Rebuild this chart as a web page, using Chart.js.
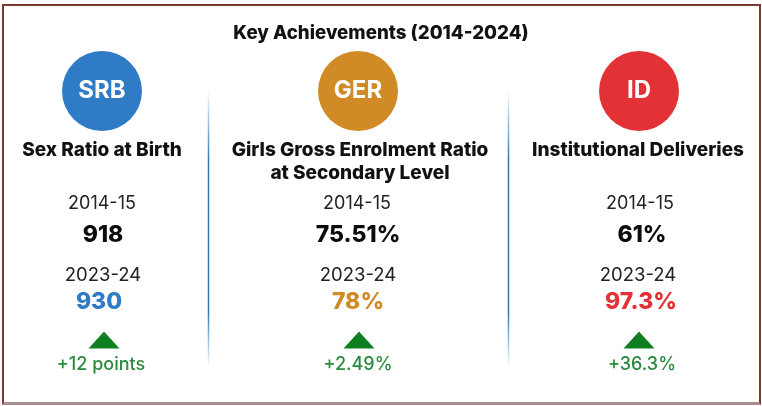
<!DOCTYPE html>
<html lang="en">
<head>
<meta charset="UTF-8">
<title>Key Achievements (2014-2024)</title>
<style>
  html,body{ margin:0; padding:0; background:#fff; }
  #wrap{ position:relative; width:762px; height:406px; overflow:hidden; }
  #frame{ position:absolute; left:2px; top:4px; width:755px; height:396px; border:2px solid #7b3a32; border-bottom:3px solid #a98f90; pointer-events:none; }
  canvas{ display:block; filter:blur(0.35px); }
</style>
</head>
<body>
<div id="wrap">
  <canvas id="chart" width="762" height="406"></canvas>
  <div id="frame"></div>
</div>
<script src="https://cdn.jsdelivr.net/npm/chart.js"></script>
<script>
"use strict";

// content
const chartTitle = "Key Achievements (2014-2024)";
const badges = ["SRB", "GER", "ID"];
const headingLine1 = ["Sex Ratio at Birth", "Girls Gross Enrolment Ratio", "Institutional Deliveries"];
const headingLine2 = ["", "at Secondary Level", ""];
const startPeriod = ["2014-15", "2014-15", "2014-15"];
const startValues = ["918", "75.51%", "61%"];
const endPeriod = ["2023-24", "2023-24", "2023-24"];
const endValues = ["930", "78%", "97.3%"];
const changes = ["+12 points", "+2.49%", "+36.3%"];

// layout, in page pixels (the scales below run 0-762 and 48-406)
const badgeX = [102, 358, 639];
const arrowX = [104, 359, 639];
const dividerX = [208.5, 508.5];
const dividerEnds = [90, 368];

const colours = ["#2f7bc6", "#d08b26", "#e33236"];

const rows = [
  {texts: badges, xs: [102, 358, 639], y: 90.5, font: "700 24px Inter", color: "#fff"},
  {texts: headingLine1, xs: [102, 360, 638], y: 150, font: "800 19px Inter", color: "#111"},
  {texts: headingLine2, xs: [102, 360, 638], y: 173, font: "800 19px Inter", color: "#111"},
  {texts: startPeriod, xs: [102, 357, 640], y: 204, font: "400 18px Inter", color: "#222"},
  {texts: startValues, xs: [103, 358, 642], y: 235, font: "800 23px Inter", color: "#0c0c0c"},
  {texts: endPeriod, xs: [103, 358, 638], y: 275, font: "400 18.5px Inter", color: "#222"},
  {texts: endValues, xs: [99, 358, 641], y: 302, font: "800 23px Inter", color: colours},
  {texts: changes, xs: [101, 358, 642], y: 365, font: "500 18px Inter", color: "#2b8a3e"}
];

function arrowImage() {
  const c = document.createElement("canvas");
  c.width = 32; c.height = 18;
  const g = c.getContext("2d");
  g.fillStyle = "#0f7f22";
  g.beginPath();
  g.moveTo(16, 0.5); g.lineTo(31.5, 17.5); g.lineTo(0.5, 17.5); g.closePath();
  g.fill();
  return c;
}

function dividerColour(ctx) {
  const area = ctx.chart.chartArea;
  if (!area) return "#2f78b5";
  const sy = ctx.chart.scales.y;
  const top = sy.getPixelForValue(dividerEnds[0]), bot = sy.getPixelForValue(dividerEnds[1]);
  const g = ctx.chart.ctx.createLinearGradient(0, top, 0, bot);
  g.addColorStop(0, "rgba(47,120,181,0)");
  g.addColorStop(0.25, "#2f78b5");
  g.addColorStop(0.8, "#2f78b5");
  g.addColorStop(1, "rgba(47,120,181,0)");
  return g;
}

// prints each row's strings at the pixels of its points
const textRows = {
  id: "textRows",
  afterDatasetsDraw(chart) {
    const {ctx, scales} = chart;
    ctx.save();
    ctx.textAlign = "center";
    ctx.textBaseline = "middle";
    rows.forEach(r => {
      ctx.font = r.font;
      r.texts.forEach((t, i) => {
        ctx.fillStyle = Array.isArray(r.color) ? r.color[i] : r.color;
        ctx.fillText(t, scales.x.getPixelForValue(r.xs[i]), scales.y.getPixelForValue(r.y));
      });
    });
    ctx.restore();
  }
};

const dividerSets = dividerX.map(x => ({
  type: "line",
  data: dividerEnds.map(y => ({x, y})),
  borderColor: dividerColour,
  borderWidth: 1.5,
  pointRadius: 0
}));

new Chart(document.getElementById("chart"), {
  type: "scatter",
  data: {
    datasets: [
      {
        data: badges.map((b, i) => ({x: badgeX[i], y: 91})),
        backgroundColor: colours,
        borderWidth: 0,
        pointRadius: 40,
        pointHoverRadius: 40
      },
      {
        data: changes.map((c, i) => ({x: arrowX[i], y: 340})),
        pointStyle: arrowImage(),
        pointRadius: 10
      },
      ...dividerSets
    ]
  },
  options: {
    responsive: false,
    animation: false,
    layout: {padding: 0, autoPadding: false},
    plugins: {
      legend: {display: false},
      tooltip: {enabled: false},
      title: {
        display: true,
        text: chartTitle,
        color: "#111",
        font: {family: "Inter", size: 18.7, weight: "800", lineHeight: 1.2},
        padding: {top: 22.06, bottom: 3.5}
      }
    },
    scales: {
      x: {type: "linear", min: 0, max: 762, display: false},
      y: {type: "linear", min: 48, max: 406, reverse: true, display: false}
    }
  },
  plugins: [textRows]
});
</script>
</body>
</html>
